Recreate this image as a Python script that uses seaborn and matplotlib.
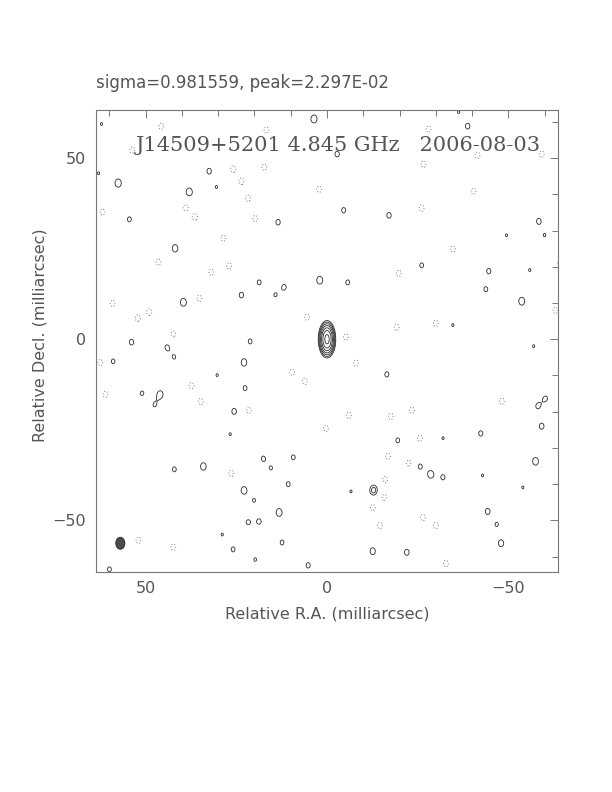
import numpy as np
import seaborn as sns
from matplotlib import pyplot as plt
from matplotlib.patches import Ellipse

# map header
sigma_text = "sigma=0.981559, peak=2.297E-02"
map_title = "J14509+5201 4.845 GHz   2006-08-03"

# core component (mJy/beam, mas)
core_ra = [0.0]
core_dec = [0.0]
core_amp = [22.97]
core_sx, core_sy = 1.15, 2.45

# positive residual peaks (RA, Dec in mas, peak in mJy/beam)
pos_ra = [3.6, 32.5, 57.6, 38.0, 54.5, 13.5, 41.9, 18.7, 11.8,
          2.0, 23.6, 39.6, 53.9, 21.2, 62.2, 30.5, 14.3, 63.0, -38.8,
          -36.3, -2.8, -4.6, -17.1, -58.4, -49.5, -60.0, -26.1, -44.6, -64.5,
          -5.7, -43.8, -53.7, -55.9, -34.7, 44.1, 59.0, 22.9, 42.1, 30.3,
          51.0, 46.0, 47.6, 22.6, 25.6, 26.7, 17.6, 9.3, 34.1, 42.1,
          15.4, 22.9, 10.7, 20.1, 13.2, 21.8, 18.7, 12.4, 25.9, 28.9,
          19.8, 5.2, 60.0, -57.0, -16.5, -60.3, -58.1, -59.2, -42.4, -19.5,
          -32.0, -25.6, -28.6, -32.0, -57.5, -42.9, -54.0, -12.9, -6.6, -44.3,
          -46.8, -48.0, -12.6, -22.0]
pos_dec = [60.8, 46.4, 43.1, 40.6, 33.1, 32.3, 25.1, 15.7, 14.4,
           16.3, 12.2, 10.2, -0.8, -0.6, 59.4, 42.0, 12.2, 45.8, 58.8,
           62.7, 51.1, 35.6, 34.2, 32.6, 28.7, 28.7, 20.4, 18.8, 21.0,
           15.7, 13.8, 10.5, 19.1, 3.9, -2.2, -6.1, -6.4, -5.0, -9.9,
           -14.9, -15.2, -18.2, -13.5, -19.9, -26.2, -32.9, -32.6, -35.1, -35.9,
           -35.6, -41.7, -40.0, -44.5, -47.8, -50.5, -50.3, -56.1, -58.0, -53.9,
           -60.8, -62.4, -63.5, -1.9, -9.7, -16.3, -18.5, -24.0, -26.0, -27.9,
           -27.3, -35.1, -37.3, -38.1, -33.7, -37.6, -40.9, -41.7, -42.0, -47.5,
           -51.1, -56.3, -58.5, -58.8]
pos_amp = [3.35, 2.9, 3.4, 3.4, 2.8, 2.9, 3.2, 2.8, 2.8,
           3.3, 2.9, 3.3, 2.9, 2.8, 2.6, 2.6, 2.6, 2.6, 2.9,
           2.6, 2.9, 2.85, 2.9, 2.9, 2.6, 2.6, 2.8, 2.85, 3.2,
           2.8, 2.8, 3.3, 2.6, 2.6, 2.85, 2.8, 3.2, 2.6, 2.6,
           2.75, 3.15, 2.55, 2.8, 2.95, 2.6, 2.75, 2.8, 3.2, 2.8,
           2.6, 3.2, 2.8, 2.65, 3.3, 2.75, 2.8, 2.8, 2.8, 2.6,
           2.65, 2.85, 2.8, 2.6, 2.85, 2.7, 2.75, 2.95, 2.85, 2.8,
           2.6, 2.85, 3.2, 2.8, 3.25, 2.6, 2.6, 4.2, 2.6, 2.95,
           2.7, 3.1, 3.1, 2.95]

# negative residual peaks
neg_ra = [45.7, 53.7, 25.9, 17.3, 23.6, 21.8, 61.9, 36.4, 19.8,
          39.0, 28.6, 46.5, 31.9, 27.0, 59.1, 49.0, 52.2, 35.2, 5.5,
          42.4, 2.2, 16.7, -28.0, -41.5, -59.2, -26.6, -40.4, -26.1, -34.7,
          -19.8, -30.0, -19.2, -5.2, -63.0, 62.5, 9.6, 6.1, 37.4,
          34.8, 21.5, 61.1, 26.4, 0.3, 52.0, 42.4, -8.0, -6.0, -23.4,
          -25.6, -16.8, -22.6, -16.0, -15.7, -12.6, -26.4, -30.0, -14.6, -32.8,
          -48.2, -17.6]
neg_dec = [58.8, 52.2, 47.0, 47.5, 43.6, 38.9, 35.1, 33.7, 33.3,
           36.4, 27.9, 21.3, 18.5, 20.2, 9.9, 7.5, 5.8, 11.3, 6.1,
           1.4, 41.4, 57.7, 58.0, 50.8, 51.1, 48.3, 40.9, 36.2, 24.9,
           18.2, 4.4, 3.3, 0.6, 8.0, -6.4, -9.1, -11.6, -12.8,
           -17.2, -19.6, -15.2, -37.0, -24.6, -55.5, -57.4, -6.6, -21.0, -19.6,
           -27.3, -32.3, -34.2, -38.7, -43.6, -46.4, -49.2, -51.4, -51.4, -61.9,
           -17.1, -21.3]
neg_peak = -3.0

# clean beam (mas) and contour levels (mJy/beam)
beam_ra, beam_dec = 57.0, -56.3
beam_major, beam_minor = 3.3, 2.5
base_level = 2.5
levels = [base_level * np.sqrt(2) ** k for k in range(7)]


def gauss(xx, yy, x0, y0, amp, sx, sy):
    return amp * np.exp(-((xx - x0) ** 2 / (2 * sx ** 2) + (yy - y0) ** 2 / (2 * sy ** 2)))


def main() -> None:
    sns.set_theme(style="white")
    plt.rcParams["font.family"] = ["DejaVu Sans"]

    x = np.arange(-66, 66.01, 0.2)
    y = np.arange(-66, 66.01, 0.2)
    xx, yy = np.meshgrid(x, y)
    img = np.zeros_like(xx)
    for r, d, a in zip(core_ra, core_dec, core_amp):
        img += gauss(xx, yy, r, d, a, core_sx, core_sy)
    for r, d, a in zip(pos_ra, pos_dec, pos_amp):
        img += gauss(xx, yy, r, d, a, 1.1, 1.45)
    for r, d in zip(neg_ra, neg_dec):
        img += gauss(xx, yy, r, d, neg_peak, 1.1, 1.45)

    fig = plt.figure(figsize=(6.12, 7.92), dpi=100)
    ax = fig.add_axes([0.1569, 0.2784, 0.7549, 0.5833])
    ax.set_facecolor("white")

    ax.contour(xx, yy, img, levels=levels, colors="#2a2a2a", linewidths=0.6)
    ax.contour(xx, yy, img, levels=[-base_level], colors="#777777",
               linewidths=0.7, linestyles=[(0, (1, 2))])

    ax.add_patch(Ellipse((beam_ra, beam_dec), beam_minor, beam_major,
                         facecolor="#4a4a4a", edgecolor="#222222", linewidth=0.6))

    ax.set_xlim(63.7, -63.7)
    ax.set_ylim(-64.1, 63.4)
    ax.set_aspect("auto")

    ax.set_xticks([50, 0, -50])
    ax.set_yticks([-50, 0, 50])
    ax.set_xticks(np.arange(-60, 61, 10), minor=True)
    ax.set_yticks(np.arange(-60, 61, 10), minor=True)
    ax.tick_params(which="both", direction="in", top=True, right=True,
                   colors="#777777", labelcolor="#555555", width=0.7)
    ax.tick_params(which="major", length=6, labelsize=11.5, pad=7)
    ax.tick_params(which="minor", length=4)
    for s in ax.spines.values():
        s.set_color("#777777")
        s.set_linewidth(0.8)

    fig.text(96 / 612, 1 - 88.5 / 792, sigma_text, ha="left", va="baseline",
             fontsize=12, color="#555555")
    ax.text(0.524, 0.923, map_title, transform=ax.transAxes, ha="center", va="center",
            fontsize=15, color="#555555", family="DejaVu Serif")
    fig.text(327 / 612, 1 - 614 / 792, "Relative R.A. (milliarcsec)", ha="center",
             va="center", fontsize=11.5, color="#555555")
    fig.text(40 / 612, 1 - 335 / 792, "Relative Decl. (milliarcsec)", ha="center",
             va="center", rotation=90, fontsize=11.5, color="#555555")

    fig.savefig("out.png", dpi=100, facecolor="white")
    plt.close(fig)


if __name__ == "__main__":
    main()
